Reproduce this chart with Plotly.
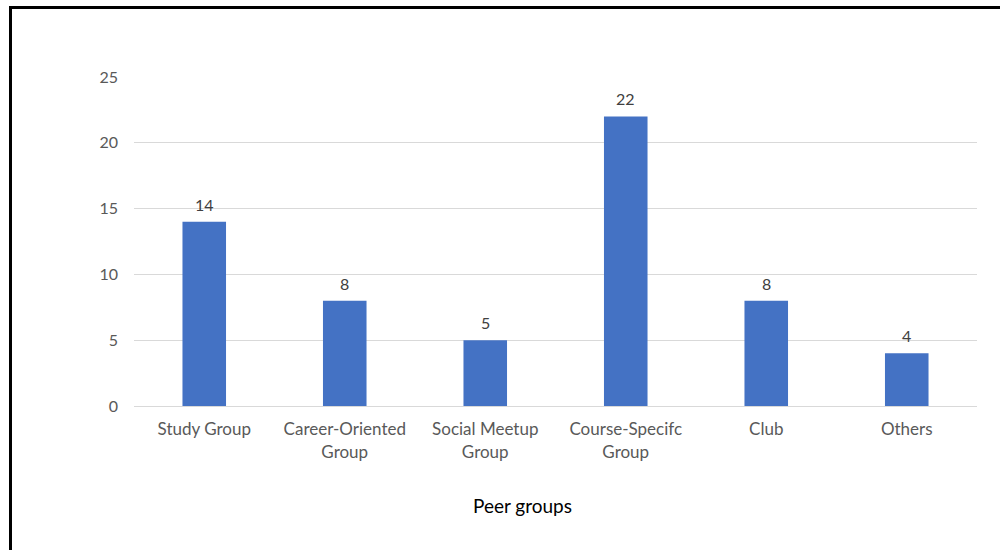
import plotly.graph_objects as go

# Peer group counts
categories = ["Study Group", "Career-Oriented<br>Group", "Social Meetup<br>Group",
              "Course-Specifc<br>Group", "Club", "Others"]
counts = [14, 8, 5, 22, 8, 4]
y_ticks = [0, 5, 10, 15, 20, 25]

W, H = 1000, 550
L, R, T, B = 134, 23, 77, 144
plot_w = W - L - R
plot_h = H - T - B

FONT = "Lato, Carlito, Calibri, sans-serif"

fig = go.Figure()
fig.add_trace(go.Bar(
    x=categories,
    y=counts,
    marker=dict(color="#4472C4", line=dict(width=0)),
    width=0.31,
    hoverinfo="x+y",
))

# value labels above each bar
for c, v in zip(categories, counts):
    fig.add_annotation(x=c, y=v, text=str(v), showarrow=False,
                       yanchor="bottom", yshift=6,
                       font=dict(family=FONT, size=16, color="#404040"))

# axis caption
fig.add_annotation(xref="paper", yref="paper", x=(522 - L) / plot_w,
                   y=(H - B - 505) / plot_h, text="Peer groups", showarrow=False,
                   xanchor="center", yanchor="middle",
                   font=dict(family=FONT, size=19, color="#000000"))

# frame lines on the left and top of the figure
def px_x(p):
    return (p - L) / plot_w

def px_y(p):
    return (H - B - p) / plot_h

fig.add_shape(type="line", xref="paper", yref="paper",
              x0=px_x(10.5), x1=px_x(10.5), y0=px_y(6.5), y1=px_y(560),
              line=dict(color="#000000", width=3))
fig.add_shape(type="line", xref="paper", yref="paper",
              x0=px_x(9), x1=px_x(1010), y0=px_y(7.5), y1=px_y(7.5),
              line=dict(color="#000000", width=3))

fig.update_layout(
    width=W, height=H,
    margin=dict(l=L, r=R, t=T, b=B, pad=0),
    paper_bgcolor="white", plot_bgcolor="white",
    showlegend=False,
    bargap=0.69,
    font=dict(family=FONT, color="#595959", size=16),
    xaxis=dict(
        showgrid=False, showline=True, linecolor="#d9d9d9", linewidth=1,
        ticks="", tickfont=dict(family=FONT, size=17, color="#595959"),
        ticklabelstandoff=8, fixedrange=True,
    ),
    yaxis=dict(
        range=[0, 25], tickvals=y_ticks, showgrid=True, gridcolor="#d9d9d9",
        gridwidth=1, zeroline=False, showline=False, ticks="",
        tickfont=dict(family=FONT, size=16, color="#595959"),
        ticklabelstandoff=15, fixedrange=True,
    ),
)

fig.write_html("out.html")
